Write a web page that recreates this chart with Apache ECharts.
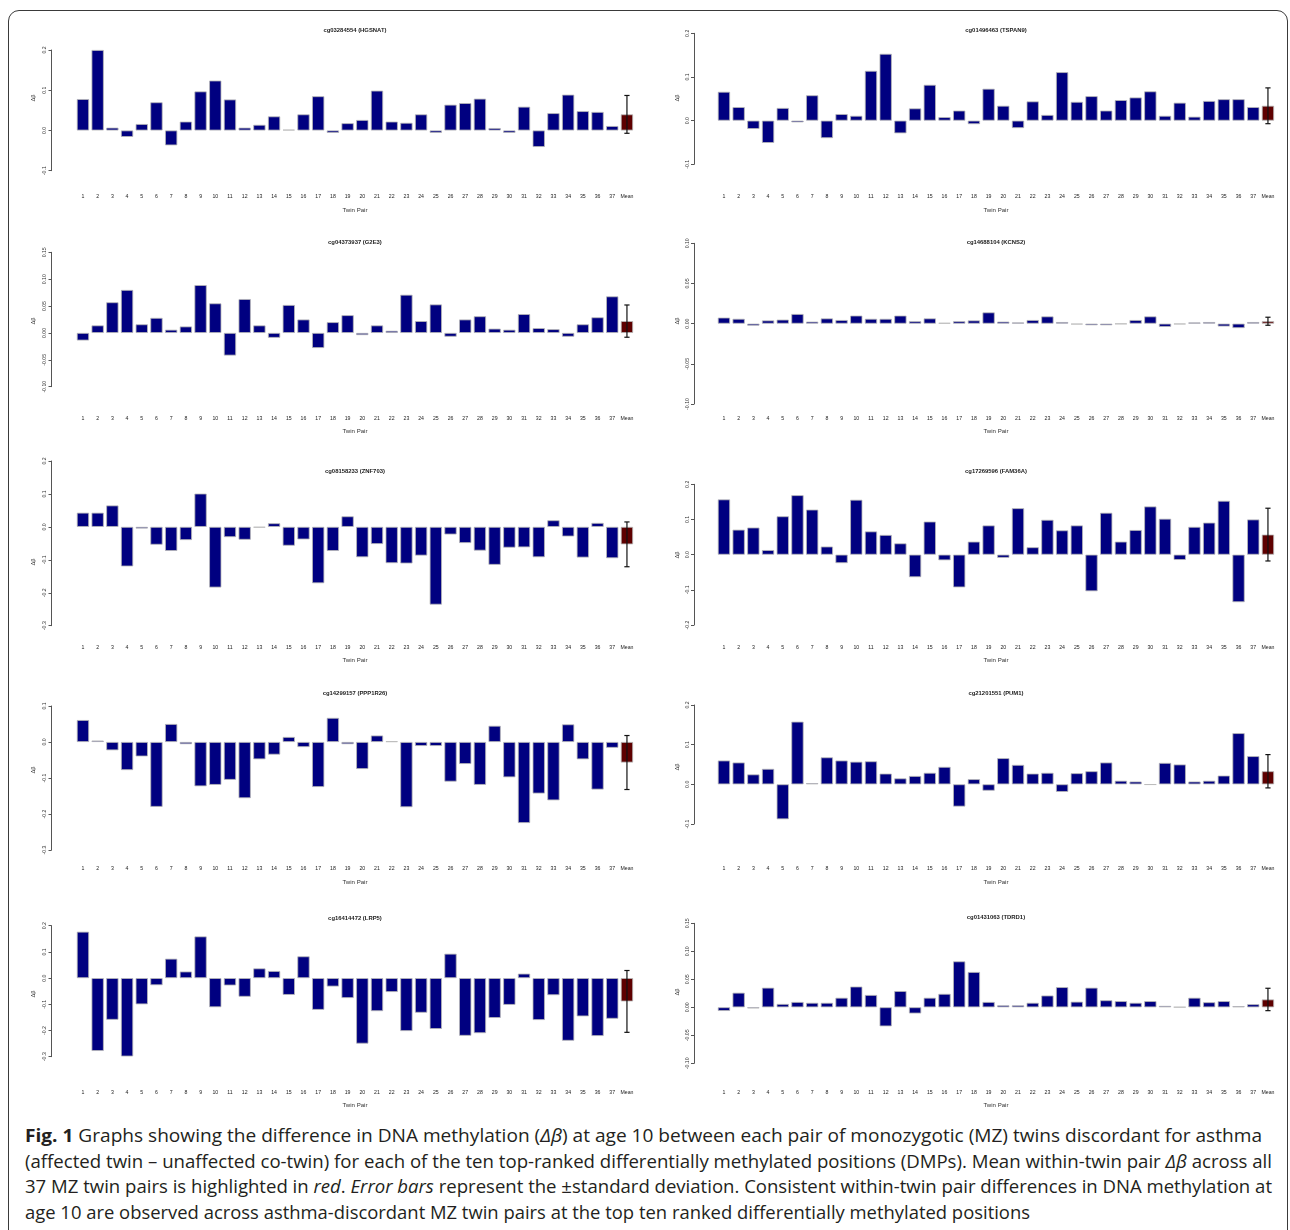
<!DOCTYPE html>
<html><head><meta charset="utf-8">
<script src="https://cdn.jsdelivr.net/npm/echarts@6/dist/echarts.min.js"></script>
<style>
html,body{margin:0;padding:0;background:#fff;width:1290px;height:1230px;overflow:hidden;}
#frame{position:absolute;left:8px;top:10px;width:1280px;height:1260px;box-sizing:border-box;border:1.5px solid #3a3a3a;border-radius:11px;}
#chart{position:absolute;left:0;top:0;width:1290px;height:1110px;}
.cap{position:absolute;left:25px;white-space:nowrap;font-family:'Open Sans',sans-serif;font-size:18px;line-height:25.5px;color:#231f20;transform-origin:0 0;}
.cap b{font-weight:700;}
</style></head><body>
<div id="frame"></div>
<div id="chart"></div>
<div class="cap" data-w="1237" style="top:1123px"><b>Fig. 1</b> Graphs showing the difference in DNA methylation (<i>Δβ</i>) at age 10 between each pair of monozygotic (MZ) twins discordant for asthma</div>
<div class="cap" data-w="1247" style="top:1148.5px">(affected twin – unaffected co-twin) for each of the ten top-ranked differentially methylated positions (DMPs). Mean within-twin pair <i>Δβ</i> across all</div>
<div class="cap" data-w="1247" style="top:1174px">37 MZ twin pairs is highlighted in <i>red</i>. <i>Error bars</i> represent the ±standard deviation. Consistent within-twin pair differences in DNA methylation at</div>
<div class="cap" data-w="1005" style="top:1199.5px">age 10 are observed across asthma-discordant MZ twin pairs at the top ten ranked differentially methylated positions</div>
<script>
// ---------- DATA ----------
const pairLabels = ['1','2','3','4','5','6','7','8','9','10','11','12','13','14','15','16','17','18','19','20','21','22','23','24','25','26','27','28','29','30','31','32','33','34','35','36','37','Mean'];

const probeTitles = ['cg03284554 (HGSNAT)','cg01496463 (TSPAN9)','cg04373937 (G2E3)','cg14688104 (KCNS2)','cg08158233 (ZNF703)','cg17269596 (FAM36A)','cg14299157 (PPP1R26)','cg21201551 (PUM1)','cg16414472 (LRP5)','cg01431063 (TDRD1)'];

const hgsnat = [0.078,0.200,0.007,-0.016,0.016,0.070,-0.037,0.022,0.097,0.124,0.077,0.007,0.014,0.035,0.002,0.040,0.085,-0.006,0.018,0.026,0.099,0.022,0.019,0.040,-0.006,0.064,0.068,0.079,0.006,-0.006,0.059,-0.041,0.043,0.089,0.048,0.046,0.011];
const tspan9 = [0.066,0.031,-0.019,-0.051,0.029,-0.004,0.058,-0.040,0.015,0.011,0.114,0.153,-0.029,0.028,0.082,0.008,0.023,-0.008,0.073,0.034,-0.017,0.044,0.013,0.111,0.043,0.056,0.023,0.047,0.053,0.067,0.011,0.041,0.009,0.045,0.049,0.049,0.031];
const g2e3 = [-0.014,0.014,0.057,0.080,0.016,0.028,0.006,0.012,0.089,0.055,-0.042,0.063,0.014,-0.009,0.052,0.025,-0.028,0.020,0.033,-0.004,0.014,0.004,0.071,0.022,0.053,-0.007,0.025,0.031,0.008,0.006,0.035,0.009,0.007,-0.007,0.016,0.029,0.068];
const kcns2 = [0.0075,0.006,-0.0025,0.004,0.005,0.012,0.0025,0.0065,0.0045,0.010,0.006,0.006,0.010,0.003,0.0065,0.001,0.003,0.004,0.014,0.0025,0.0015,0.0045,0.009,0.002,-0.001,-0.002,-0.002,-0.0005,0.0045,0.009,-0.004,-0.0008,0.0015,0.002,-0.0035,-0.0055,0.002];
const znf703 = [0.043,0.043,0.065,-0.120,-0.005,-0.054,-0.073,-0.040,0.101,-0.184,-0.031,-0.039,-0.002,0.011,-0.057,-0.038,-0.171,-0.073,0.032,-0.092,-0.052,-0.110,-0.111,-0.087,-0.236,-0.023,-0.049,-0.072,-0.115,-0.063,-0.062,-0.092,0.020,-0.029,-0.093,0.012,-0.095];
const fam36a = [0.157,0.071,0.077,0.013,0.109,0.169,0.128,0.023,-0.024,0.156,0.066,0.056,0.032,-0.064,0.094,-0.016,-0.093,0.037,0.083,-0.009,0.132,0.021,0.099,0.069,0.083,-0.104,0.119,0.037,0.070,0.137,0.102,-0.015,0.079,0.091,0.153,-0.135,0.100];
const ppp1r26 = [0.061,0.004,-0.023,-0.078,-0.040,-0.180,0.050,-0.006,-0.123,-0.119,-0.105,-0.156,-0.048,-0.035,0.014,-0.014,-0.125,0.067,-0.006,-0.075,0.018,0.002,-0.181,-0.011,-0.011,-0.110,-0.061,-0.119,0.045,-0.098,-0.225,-0.143,-0.162,0.049,-0.048,-0.132,-0.016];
const pum1 = [0.060,0.055,0.025,0.039,-0.088,0.158,0.003,0.068,0.060,0.057,0.058,0.027,0.015,0.021,0.029,0.044,-0.056,0.013,-0.016,0.066,0.049,0.027,0.029,-0.019,0.028,0.033,0.055,0.009,0.007,-0.001,0.054,0.050,0.007,0.009,0.022,0.129,0.071];
const lrp5 = [0.177,-0.278,-0.159,-0.299,-0.100,-0.027,0.074,0.025,0.159,-0.111,-0.028,-0.071,0.037,0.027,-0.064,0.083,-0.121,-0.032,-0.076,-0.250,-0.126,-0.053,-0.202,-0.132,-0.194,0.093,-0.220,-0.210,-0.152,-0.102,0.017,-0.160,-0.065,-0.239,-0.146,-0.221,-0.155];
const tdrd1 = [-0.0065,0.026,-0.002,0.035,0.006,0.0095,0.008,0.008,0.017,0.037,0.022,-0.034,0.029,-0.011,0.017,0.024,0.082,0.063,0.0095,0.0035,0.0035,0.008,0.021,0.036,0.010,0.035,0.0125,0.011,0.008,0.011,0.0025,0.0005,0.017,0.009,0.011,0.002,0.0055];

const meanDelta = [0.040,0.034,0.022,0.003,-0.053,0.057,-0.057,0.033,-0.089,0.014];
const sdDelta   = [0.047,0.041,0.030,0.005,0.068,0.075,0.075,0.042,0.118,0.020];

const yMin  = [-0.1,-0.1,-0.10,-0.10,-0.3,-0.2,-0.3,-0.1,-0.3,-0.10];
const yMax  = [0.2,0.2,0.15,0.10,0.2,0.2,0.1,0.2,0.2,0.15];
const yStep = [0.1,0.1,0.05,0.05,0.1,0.1,0.1,0.1,0.1,0.05];
const yDecimals = [1,1,2,2,1,1,1,1,1,2];

const panelValues = [hgsnat,tspan9,g2e3,kcns2,znf703,fam36a,ppp1r26,pum1,lrp5,tdrd1];

// ---------- LAYOUT ----------
const colL = {left:75.6, width:558.7, axisX:51.5, dbX:33};
const colR = {left:716.6, width:558.7, axisX:694, dbX:677};
const layout = [
  {c:colL, top:50,    height:120.7, labelY:197,    nameY:210,    titleY:30,    dbY:98},
  {c:colR, top:33.3,  height:131,   labelY:197,    nameY:210.7,  titleY:30.7,  dbY:98},
  {c:colL, top:252.3, height:134.4, labelY:418.7,  nameY:431.7,  titleY:242.3, dbY:321},
  {c:colR, top:243.3, height:160.7, labelY:418.7,  nameY:431.7,  titleY:242.3, dbY:321},
  {c:colL, top:461,   height:164.7, labelY:647.3,  nameY:660.3,  titleY:471.7, dbY:562},
  {c:colR, top:484.3, height:140.7, labelY:647.3,  nameY:660.3,  titleY:471,   dbY:555},
  {c:colL, top:706,   height:144,   labelY:869,    nameY:882,    titleY:693.3, dbY:770},
  {c:colR, top:705,   height:119,   labelY:869,    nameY:882,    titleY:693.3, dbY:767},
  {c:colL, top:925.7, height:131,   labelY:1092.3, nameY:1105.3, titleY:918.3, dbY:994},
  {c:colR, top:923.3, height:140,   labelY:1092.3, nameY:1105.3, titleY:917,   dbY:992}
];

const BAR = '#000080', MEAN = '#5e0000', EDGE = '#b8b8b8';
const FONT = 'Liberation Sans, Arial, sans-serif';
const TICK_FS = 5.2;

const grids = [], xAxes = [], yAxes = [], series = [], graphics = [];
layout.forEach((L, i) => {
  const c = L.c;
  grids.push({left:c.left, top:L.top, width:c.width, height:L.height, containLabel:false});
  const bottom = L.top + L.height;
  xAxes.push({
    type:'category', gridIndex:i, data:pairLabels,
    axisLine:{show:false, onZero:false}, axisTick:{show:false}, splitLine:{show:false},
    axisLabel:{interval:0, fontSize:TICK_FS, fontFamily:FONT, color:'#222', margin:(L.labelY - bottom) - TICK_FS/2}
  });
  yAxes.push({
    type:'value', gridIndex:i, min:yMin[i], max:yMax[i], interval:yStep[i],
    offset:c.left - c.axisX,
    axisLine:{show:true, lineStyle:{color:'#555', width:1}},
    axisTick:{show:true, length:3, lineStyle:{color:'#555', width:1}},
    splitLine:{show:false},
    axisLabel:{rotate:90, fontSize:TICK_FS, fontFamily:FONT, color:'#333', margin:4,
      formatter:(v)=>v.toFixed(yDecimals[i])}
  });
  const data = panelValues[i].map(v => v);
  data.push({value:meanDelta[i], itemStyle:{color:MEAN}});
  series.push({
    type:'bar', xAxisIndex:i, yAxisIndex:i, data:data, barCategoryGap:'16.7%',
    itemStyle:{color:BAR, borderColor:EDGE, borderWidth:0.8}, silent:true, animation:false
  });
  series.push({
    type:'custom', xAxisIndex:i, yAxisIndex:i, z:5, silent:true, animation:false,
    data:[[pairLabels.length-1, meanDelta[i]-sdDelta[i], meanDelta[i]+sdDelta[i]]],
    encode:{x:0, y:[1,2]},
    renderItem:(params, api) => {
      const lo = api.coord([api.value(0), api.value(1)]);
      const hi = api.coord([api.value(0), api.value(2)]);
      const cx = lo[0], hw = 2.6;
      const st = {stroke:'#111', lineWidth:1.2};
      return {type:'group', children:[
        {type:'line', shape:{x1:cx, y1:lo[1], x2:cx, y2:hi[1]}, style:st},
        {type:'line', shape:{x1:cx-hw, y1:lo[1], x2:cx+hw, y2:lo[1]}, style:st},
        {type:'line', shape:{x1:cx-hw, y1:hi[1], x2:cx+hw, y2:hi[1]}, style:st}
      ]};
    }
  });
  const cx = c.left + c.width/2;
  graphics.push({type:'text', x:cx, y:L.titleY, silent:true,
    style:{text:probeTitles[i], align:'center', verticalAlign:'middle', font:'bold 5.9px ' + FONT, fill:'#222'}});
  graphics.push({type:'text', x:cx, y:L.nameY, silent:true,
    style:{text:'Twin Pair', align:'center', verticalAlign:'middle', font:'6.1px ' + FONT, fill:'#333'}});
  graphics.push({type:'text', x:c.dbX, y:L.dbY, rotation:Math.PI/2, silent:true,
    style:{text:'Δβ', align:'center', verticalAlign:'middle', font:'5.8px ' + FONT, fill:'#333'}});
});

const chart = echarts.init(document.getElementById('chart'), null, {renderer:'canvas'});
chart.setOption({
  animation:false,
  grid:grids, xAxis:xAxes, yAxis:yAxes, series:series, graphic:graphics
});

// fit caption lines to their measured widths
document.querySelectorAll('.cap').forEach(el => {
  const w = el.getBoundingClientRect().width;
  const target = parseFloat(el.dataset.w);
  el.style.transform = 'scaleX(' + (target / w) + ')';
});
</script>
</body></html>
